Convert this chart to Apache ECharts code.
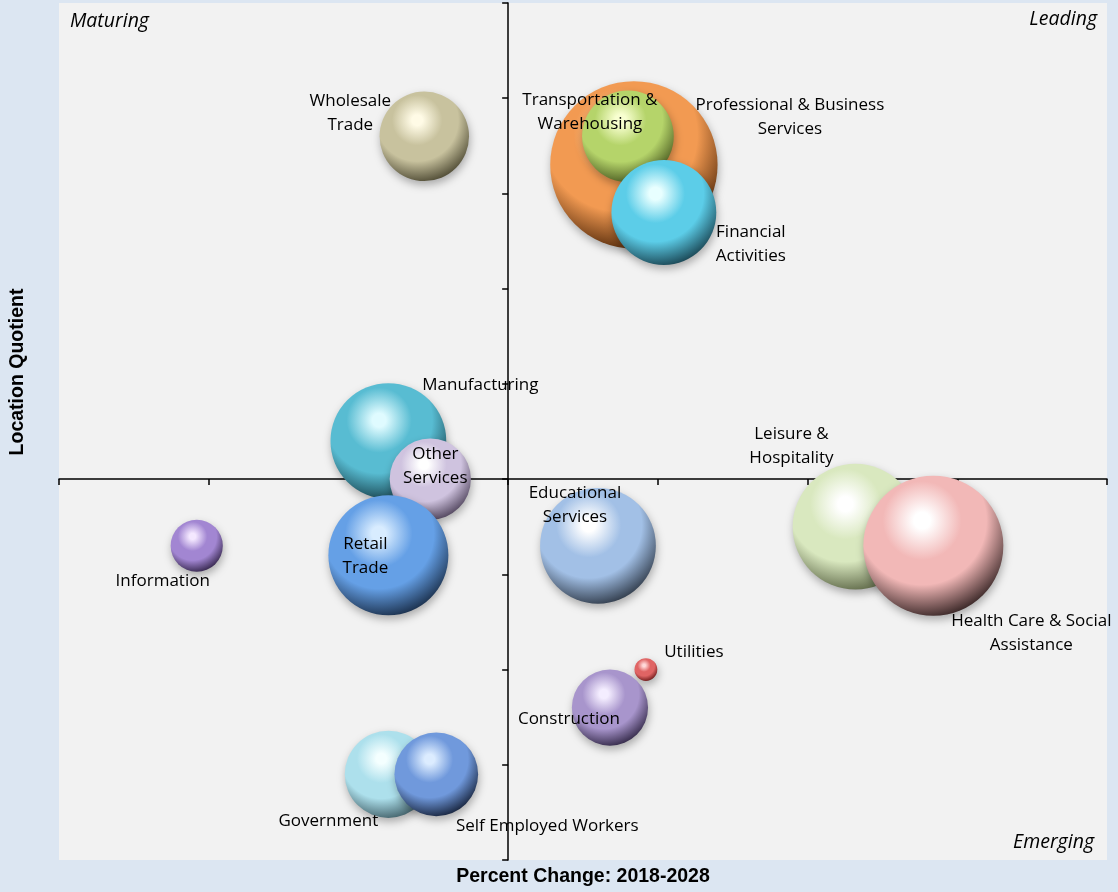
<!DOCTYPE html>
<html>
<head>
<meta charset="utf-8">
<script src="https://cdn.jsdelivr.net/npm/echarts@6/dist/echarts.min.js"></script>
<style>
  html, body { margin: 0; padding: 0; background: #dce6f2; }
  #chart { width: 1118px; height: 892px; }
</style>
</head>
<body>
<div id="chart"></div>
<script>
// industries, in drawing order (later ones sit on top)
const industries = [
  'Wholesale Trade', 'Professional & Business Services', 'Transportation & Warehousing',
  'Financial Activities', 'Manufacturing', 'Other Services', 'Retail Trade', 'Information',
  'Educational Services', 'Leisure & Hospitality', 'Health Care & Social Assistance',
  'Utilities', 'Construction', 'Government', 'Self Employed Workers'
]
// percent change 2018-2028
const pctChange = [-2.8, 4.2, 4.0, 5.2, -4.0, -2.6, -4.0, -10.4, 3.0, 11.6, 14.2, 4.6, 3.4, -4.0, -2.4]
// location quotient
const locationQuotient = [1.36, 1.33, 1.36, 1.28, 1.04, 1.00, 0.92, 0.93, 0.93, 0.95, 0.93, 0.80, 0.76, 0.69, 0.69]
// employment (bubble area)
const employment = [2000, 7000, 2100, 2750, 3350, 1650, 3600, 680, 3350, 3950, 4900, 130, 1450, 1900, 1750]

const LQ_BASE = 1  // quadrants split at LQ = 1

// label text, offset from bubble centre, and colours (highlight, body, shade)
const look = {
  'Wholesale Trade': {text: 'Wholesale\nTrade', off: [-74, -23], c: ['#fffbe6', '#c8c29e', '#4a4630']},
  'Professional & Business Services': {text: 'Professional & Business\nServices', off: [156, -48], c: ['#ffd8a8', '#f29a52', '#4a2306']},
  'Transportation & Warehousing': {text: 'Transportation &\nWarehousing', off: [-38, -24], c: ['#f8ffd0', '#b5d46a', '#46561e']},
  'Financial Activities': {text: 'Financial\nActivities', off: [87, 32], c: ['#e8ffff', '#5ccde8', '#173f4c']},
  'Manufacturing': {text: 'Manufacturing', off: [92, -56], c: ['#dffbff', '#58bcd2', '#163f4a']},
  'Other Services': {text: 'Other\nServices', off: [5, -13], c: ['#ffffff', '#cfc3df', '#4c4058']},
  'Retail Trade': {text: 'Retail\nTrade', off: [-23, 1], c: ['#d8ecff', '#65a0e6', '#172a44']},
  'Information': {text: 'Information', off: [-34, 35], c: ['#f4e8ff', '#a286d2', '#302246']},
  'Educational Services': {text: 'Educational\nServices', off: [-23, -41], c: ['#ffffff', '#a2c0e6', '#2c3644']},
  'Leisure & Hospitality': {text: 'Leisure &\nHospitality', off: [-64, -81], c: ['#ffffff', '#d9e8bf', '#5a6444']},
  'Health Care & Social Assistance': {text: 'Health Care & Social\nAssistance', off: [98, 87], c: ['#ffffff', '#f2b8b7', '#2e1e1e']},
  'Utilities': {text: 'Utilities', off: [48, -17], c: ['#ffd8d8', '#e06464', '#6a1818']},
  'Construction': {text: 'Construction', off: [-41, 12], c: ['#f4edff', '#a895cc', '#2e2442']},
  'Government': {text: 'Government', off: [-60, 47], c: ['#f4ffff', '#ade0ec', '#3e5c64']},
  'Self Employed Workers': {text: 'Self Employed Workers', off: [111, 52], c: ['#dcecff', '#7099dc', '#141f36']}
}

function sphere(c) {
  return {
    type: 'radial', x: 0.42, y: 0.32, r: 0.74,
    colorStops: [
      {offset: 0, color: c[0]},
      {offset: 0.08, color: c[0]},
      {offset: 0.38, color: c[1]},
      {offset: 0.62, color: c[1]},
      {offset: 0.97, color: c[2]},
      {offset: 1, color: c[2]}
    ]
  }
}

const data = industries.map((name, i) => {
  const s = look[name]
  return {
    name,
    value: [pctChange[i], locationQuotient[i] - LQ_BASE, employment[i]],
    itemStyle: {color: sphere(s.c)},
    label: {formatter: s.text, offset: s.off}
  }
})

const chart = echarts.init(document.getElementById('chart'))
chart.setOption({
  backgroundColor: '#dce6f2',
  animation: false,
  grid: {left: 59, right: 11, top: 3, bottom: 32, show: true, backgroundColor: '#f2f2f2', borderWidth: 0},
  xAxis: {
    type: 'value', min: -15, max: 20, interval: 5,
    axisLine: {onZero: true, lineStyle: {color: '#000', width: 1.5}},
    axisTick: {show: true, length: 6, lineStyle: {color: '#000', width: 1.5}},
    axisLabel: {show: false},
    splitLine: {show: false}
  },
  yAxis: {
    type: 'value', min: -0.4, max: 0.5, interval: 0.1,
    axisLine: {show: true, onZero: true, lineStyle: {color: '#000', width: 1.5}},
    axisTick: {show: true, length: 6, lineStyle: {color: '#000', width: 1.5}},
    axisLabel: {show: false},
    splitLine: {show: false}
  },
  series: [{
    type: 'scatter',
    data,
    symbolSize: v => 2 * Math.sqrt(v[2]),
    itemStyle: {
      opacity: 1,
      shadowBlur: 8, shadowOffsetX: 1, shadowOffsetY: 4, shadowColor: 'rgba(0,0,0,0.3)'
    },
    label: {
      show: true, position: 'inside', align: 'center', verticalAlign: 'middle',
      fontFamily: 'Open Sans', fontSize: 17, lineHeight: 24, color: '#000',
      textBorderWidth: 0
    },
    emphasis: {disabled: true}
  }],
  graphic: [
    {type: 'text', left: 70, top: 11, style: {text: 'Maturing', fontFamily: 'Open Sans', fontStyle: 'italic', fontSize: 19.5, fill: '#000'}},
    {type: 'text', right: 21, top: 9, style: {text: 'Leading', fontFamily: 'Open Sans', fontStyle: 'italic', fontSize: 19.5, fill: '#000'}},
    {type: 'text', right: 24, top: 832, style: {text: 'Emerging', fontFamily: 'Open Sans', fontStyle: 'italic', fontSize: 19.5, fill: '#000'}},
    {type: 'text', x: 583, y: 877, style: {text: 'Percent Change: 2018-2028', fontFamily: 'Liberation Sans', fontWeight: 'bold', fontSize: 19.5, fill: '#000', align: 'center', verticalAlign: 'middle'}},
    {type: 'text', x: 18, y: 372, rotation: Math.PI / 2, style: {text: 'Location Quotient', fontFamily: 'Liberation Sans', fontWeight: 'bold', fontSize: 19.5, fill: '#000', align: 'center', verticalAlign: 'middle'}}
  ]
})
</script>
</body>
</html>
